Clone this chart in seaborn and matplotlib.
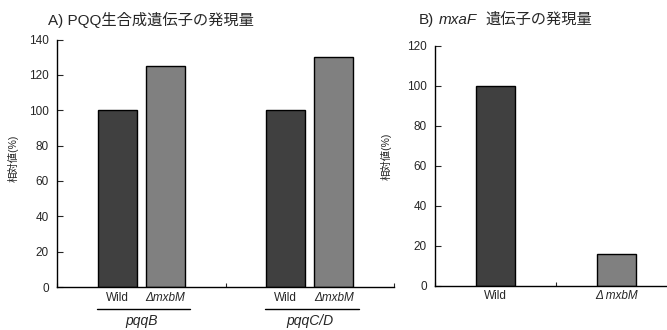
import matplotlib
matplotlib.use("Agg")
import matplotlib.pyplot as plt
import seaborn as sns
import pandas as pd

# ---- data ----
genes = ["pqqB", "pqqC/D"]
strains = ["Wild", "ΔmxbM"]
wild_pqq = [100, 100]
mut_pqq = [125, 130]
mxaF_strains = ["Wild", "ΔmxbM"]
mxaF_values = [100, 16]
colors = {"Wild": "#404040", "ΔmxbM": "#808080"}

sns.set_style("ticks")
plt.rcParams["font.family"] = ["Liberation Sans", "Noto Sans CJK JP", "DejaVu Sans"]

df_a = pd.DataFrame({
    "gene": genes * 2,
    "strain": [strains[0]] * 2 + [strains[1]] * 2,
    "value": wild_pqq + mut_pqq,
})
df_b = pd.DataFrame({"strain": mxaF_strains, "value": mxaF_values})

fig = plt.figure(figsize=(6.67, 3.30), dpi=100)
ax1 = fig.add_axes([57 / 667, 1 - 287 / 330, 337 / 667, 247.5 / 330])
ax2 = fig.add_axes([435 / 667, 1 - 286 / 330, 242 / 667, 240 / 330])

W = 0.57
sns.barplot(data=df_a, x="gene", y="value", hue="strain", order=genes,
            hue_order=strains, palette=colors, width=W, gap=0.19,
            edgecolor="black", linewidth=1, legend=False, ax=ax1)
sns.barplot(data=df_b, x="strain", y="value", hue="strain", order=mxaF_strains,
            palette=colors, width=0.315, edgecolor="black", linewidth=1,
            legend=False, ax=ax2)

for ax, top in ((ax1, 140), (ax2, 120)):
    ax.set_ylim(0, top)
    ax.set_yticks(range(0, top + 1, 20))
    ax.set_xlim(-0.5, 1.5)
    ax.set_xticks([-0.5, 0.5, 1.5])
    ax.set_xticklabels([])
    ax.set_xlabel("")
    ax.set_ylabel("相対値(%)", fontsize=7.5)
    ax.tick_params(axis="y", direction="in", length=4, width=0.8, labelsize=8.5, pad=6)
    ax.tick_params(axis="x", direction="in", length=3, width=0.8)
    sns.despine(ax=ax)
    for s in ("left", "bottom"):
        ax.spines[s].set_linewidth(1)
        ax.spines[s].set_color("black")

ax1.yaxis.set_label_coords(-0.115, 0.52)
ax2.yaxis.set_label_coords(-0.18, 0.54)

# left panel category labels
off = W / 4
for i, g in enumerate(genes):
    ax1.text(i - off, -6, strains[0], ha="center", va="center", fontsize=8.5, clip_on=False)
    ax1.text(i + off, -6, strains[1], ha="center", va="center", fontsize=8.5,
             style="italic", clip_on=False)
    ax1.plot([i - 0.265, i + 0.29], [-12.5, -12.5], color="black", lw=1, clip_on=False)
    ax1.text(i, -19.5, g, ha="center", va="center", fontsize=10, style="italic", clip_on=False)

# right panel labels
ax2.text(0, -5, "Wild", ha="center", va="center", fontsize=8.5, clip_on=False)
ax2.text(1, -5, "Δ mxbM", ha="center", va="center", fontsize=8.5, style="italic", clip_on=False)

# titles
fig.text(48 / 667, 1 - 20 / 330, "A) PQQ生合成遺伝子の発現量", ha="left", va="center", fontsize=11)
fig.text(419 / 667, 1 - 20 / 330, "B)", ha="left", va="center", fontsize=11)
fig.text(439 / 667, 1 - 20 / 330, "mxaF", ha="left", va="center", fontsize=11, style="italic")
fig.text(485 / 667, 1 - 20 / 330, "遺伝子の発現量", ha="left", va="center", fontsize=11)

fig.savefig("out.png", dpi=100)
